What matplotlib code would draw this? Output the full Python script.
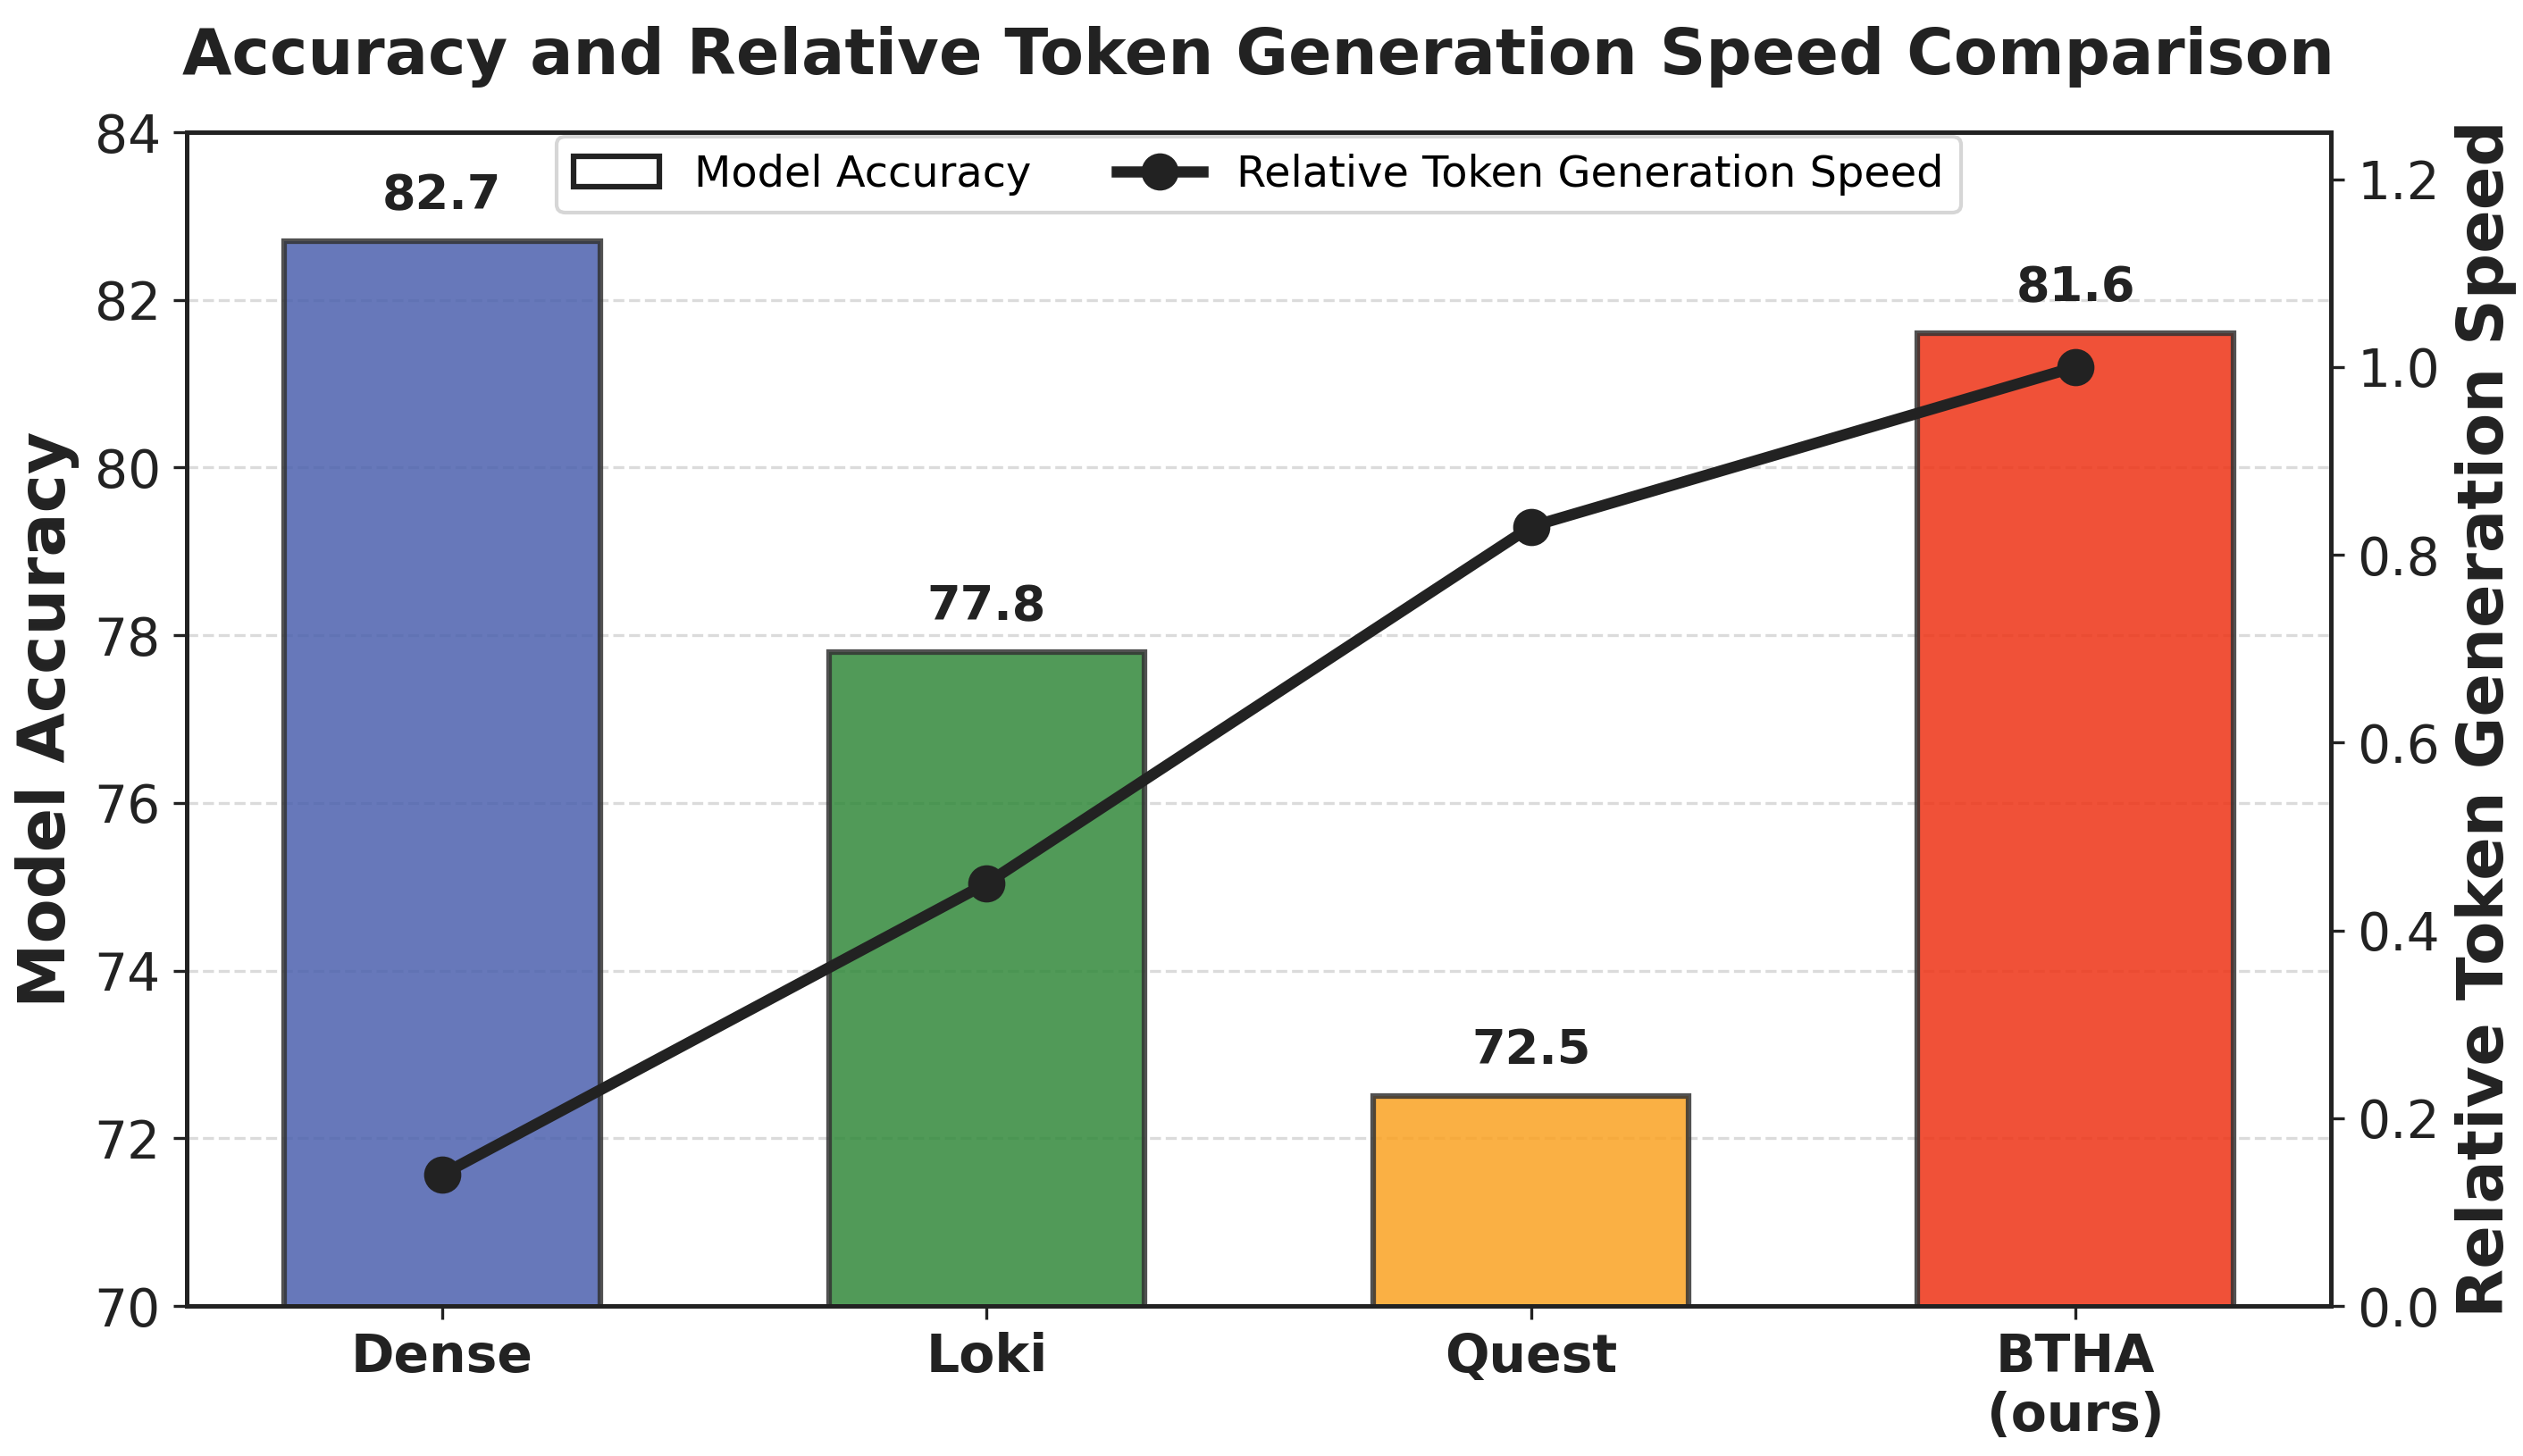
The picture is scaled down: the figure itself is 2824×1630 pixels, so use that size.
import matplotlib
matplotlib.use("Agg")
import matplotlib.pyplot as plt
from matplotlib.patches import Patch
from matplotlib.lines import Line2D

models = ["Dense", "Loki", "Quest", "BTHA\n(ours)"]
accuracy = [82.7, 77.8, 72.5, 81.6]
speed = [0.14, 0.45, 0.83, 1.00]
bar_colors = ["#4C61AE", "#32893B", "#FAA223", "#EE3315"]
acc_ticks = [70, 72, 74, 76, 78, 80, 82, 84]
speed_ticks = [0.0, 0.2, 0.4, 0.6, 0.8, 1.0, 1.2]

plt.rcParams["font.family"] = ["DejaVu Sans"]
plt.rcParams["axes.linewidth"] = 1.2
text_color = "#222222"

fig = plt.figure(figsize=(2824 / 300, 1630 / 300), dpi=300)
ax = fig.add_axes([209 / 2824, 1 - 1462 / 1630, (2609 - 209) / 2824, (1462 - 148) / 1630])
ax2 = ax.twinx()

x = list(range(len(models)))
bars = ax.bar(x, accuracy, width=0.58, color=bar_colors, alpha=0.85,
              edgecolor="#333333", linewidth=1.5, zorder=2)
ax.set_ylim(70, 84)
ax.set_yticks(acc_ticks)
ax.set_xticks(x)
ax.set_xticklabels(models, fontsize=14, fontweight="bold", color=text_color)
ax.tick_params(axis="y", labelsize=14, colors=text_color)
ax.tick_params(axis="x", colors=text_color)
ax.set_ylabel("Model Accuracy", fontsize=17.5, fontweight="bold", color=text_color)
ax.grid(axis="y", linestyle="--", linewidth=0.8, color="#cccccc", alpha=0.7, zorder=0)
ax.set_axisbelow(True)

for xi, v in zip(x, accuracy):
    ax.annotate(f"{v:.1f}", (xi, v), xytext=(0, 6), textcoords="offset points",
                ha="center", va="bottom", fontsize=13, fontweight="bold", color=text_color)

ax2.plot(x, speed, color="#222222", linewidth=3, marker="o", markersize=9, zorder=3)
ax2.set_ylim(0, 1.25)
ax2.set_yticks(speed_ticks)
ax2.tick_params(axis="y", labelsize=14, colors=text_color)
ax2.set_ylabel("Relative Token Generation Speed", fontsize=17.2, fontweight="bold", color=text_color)

for a in (ax, ax2):
    for s in a.spines.values():
        s.set_color(text_color)

ax.set_title("Accuracy and Relative Token Generation Speed Comparison",
             fontsize=17.2, fontweight="bold", color=text_color, pad=15.5)

handles = [Patch(facecolor="white", edgecolor="#222222", linewidth=1.5, label="Model Accuracy"),
           Line2D([0], [0], color="#222222", linewidth=3, marker="o", markersize=9,
                  label="Relative Token Generation Speed")]
ax.legend(handles=handles, loc="upper center", ncol=2, fontsize=11.5, frameon=True,
          borderaxespad=0.1)

fig.savefig("out.png", dpi=300)
